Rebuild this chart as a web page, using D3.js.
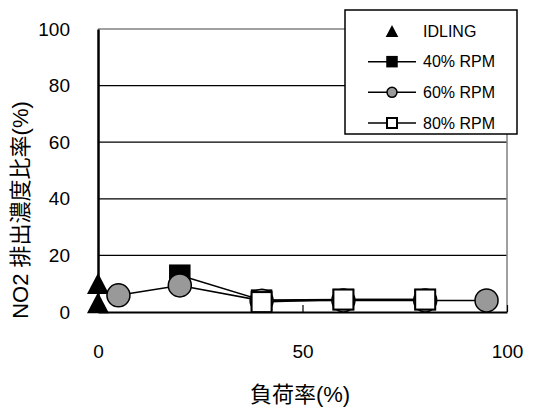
<!DOCTYPE html>
<html>
<head>
<meta charset="utf-8">
<script src="https://cdn.jsdelivr.net/npm/d3@7"></script>
<style>
  html, body { margin: 0; padding: 0; background: #fff; }
  svg { display: block; }
  text { font-family: "Liberation Sans", Arial, "Noto Sans CJK JP", sans-serif; fill: #000; }
  .cjk { font-family: "Liberation Sans", "Noto Sans CJK JP", sans-serif; }
</style>
</head>
<body>
<svg id="chart" width="544" height="408"></svg>
<script>
// Load rate (%) on the x axis, NO2 emission concentration ratio (%) on the y axis
const xTicks = [0, 50, 100];
const yTicks = [0, 20, 40, 60, 80, 100];

const idleLoad = [0, 0];
const idleRatio = [10.1, 3.3];

const rpm40Load = [20, 40, 60, 80];
const rpm40Ratio = [13.0, 4.2, 4.4, 4.4];

const rpm60Load = [5, 20, 40, 60, 80, 95];
const rpm60Ratio = [5.9, 9.4, 4.0, 4.1, 4.1, 4.1];

const rpm80Load = [40, 60, 80];
const rpm80Ratio = [3.5, 4.4, 4.4];

const seriesNames = ["IDLING", "40% RPM", "60% RPM", "80% RPM"];

const svg = d3.select("#chart");
const plotLeft = 98, plotRight = 507, plotTop = 29, plotBottom = 312;

const x = d3.scaleLinear().domain([0, 100]).range([plotLeft, plotRight]);
const y = d3.scaleLinear().domain([0, 100]).range([plotBottom, plotTop]);

// horizontal gridlines
svg.append("g").selectAll("line")
  .data(yTicks.filter(v => v > 0))
  .join("line")
  .attr("x1", plotLeft).attr("x2", plotRight)
  .attr("y1", d => y(d)).attr("y2", d => y(d))
  .attr("stroke", d => d === 100 ? "#808080" : "#000")
  .attr("stroke-width", d => d === 100 ? 1.5 : 1.3);

// right frame edge
svg.append("line")
  .attr("x1", plotRight).attr("x2", plotRight)
  .attr("y1", plotTop).attr("y2", plotBottom)
  .attr("stroke", "#808080").attr("stroke-width", 1.5);

// y axis
const yAxis = d3.axisLeft(y).tickValues(yTicks).tickSize(0).tickPadding(28);
const gy = svg.append("g").attr("transform", `translate(${plotLeft},0)`).call(yAxis);
gy.select(".domain").attr("stroke", "#000").attr("stroke-width", 2.5);
gy.selectAll("text").style("font-size", "19px");

// x axis with inward ticks
const xAxis = d3.axisBottom(x).tickValues(xTicks).tickSize(-7).tickPadding(33).tickSizeOuter(0);
const gx = svg.append("g").attr("transform", `translate(0,${plotBottom})`).call(xAxis);
gx.select(".domain").attr("stroke", "#000").attr("stroke-width", 2);
gx.selectAll(".tick line").attr("stroke", "#000").attr("stroke-width", 1.2);
gx.selectAll("text").style("font-size", "19px");

// axis titles
svg.append("text")
  .attr("class", "cjk")
  .attr("transform", `translate(28,210) rotate(-90)`)
  .attr("text-anchor", "middle")
  .style("font-size", "22px")
  .text("NO2 排出濃度比率(%)");

svg.append("text")
  .attr("class", "cjk")
  .attr("x", 300).attr("y", 402)
  .attr("text-anchor", "middle")
  .style("font-size", "22px")
  .text("負荷率(%)");

// marker shapes
function trianglePath(w, h) {
  return `M0,${-h / 2}L${w / 2},${h / 2}L${-w / 2},${h / 2}Z`;
}
function drawMarker(g, kind, size) {
  if (kind === "triangle") {
    g.append("path").attr("d", trianglePath(size * 1.05, size)).attr("fill", "#000");
  } else if (kind === "square") {
    g.append("rect").attr("x", -size / 2).attr("y", -size / 2)
      .attr("width", size).attr("height", size)
      .attr("fill", "#000").attr("stroke", "#000").attr("stroke-width", 1.5);
  } else if (kind === "circle") {
    g.append("circle").attr("r", size / 2)
      .attr("fill", "#999").attr("stroke", "#000").attr("stroke-width", 1.5);
  } else if (kind === "open") {
    g.append("rect").attr("x", -size / 2).attr("y", -size / 2)
      .attr("width", size).attr("height", size)
      .attr("fill", "#fff").attr("stroke", "#000").attr("stroke-width", 2);
  }
}

const line = d3.line().x(d => x(d[0])).y(d => y(d[1]));

const series = [
  { loads: idleLoad, ratios: idleRatio, kind: "triangle", size: 21, joined: false },
  { loads: rpm40Load, ratios: rpm40Ratio, kind: "square", size: 20, joined: true },
  { loads: rpm60Load, ratios: rpm60Ratio, kind: "circle", size: 23, joined: true },
  { loads: rpm80Load, ratios: rpm80Ratio, kind: "open", size: 20, joined: true }
];

series.forEach(s => {
  const pts = s.loads.map((v, i) => [v, s.ratios[i]]);
  const g = svg.append("g");
  if (s.joined) {
    g.append("path").datum(pts).attr("d", line)
      .attr("fill", "none").attr("stroke", "#000").attr("stroke-width", 1.5);
  }
  pts.forEach(p => {
    const m = g.append("g").attr("transform", `translate(${x(p[0])},${y(p[1])})`);
    drawMarker(m, s.kind, s.size);
  });
});

// legend
const legend = svg.append("g");
legend.append("rect")
  .attr("x", 345).attr("y", 10).attr("width", 172).attr("height", 124)
  .attr("fill", "#fff").attr("stroke", "#000").attr("stroke-width", 1.5);

const legendY = d3.scalePoint().domain(seriesNames).range([31, 123]);
const legendKinds = ["triangle", "square", "circle", "open"];
seriesNames.forEach((name, i) => {
  const cy = legendY(name);
  if (i > 0) {
    legend.append("line").attr("x1", 368).attr("x2", 416)
      .attr("y1", cy).attr("y2", cy).attr("stroke", "#000").attr("stroke-width", 1.5);
  }
  const m = legend.append("g").attr("transform", `translate(392,${cy})`);
  drawMarker(m, legendKinds[i], i === 0 ? 12 : 10);
  legend.append("text").attr("x", 423).attr("y", cy).attr("dy", "0.36em")
    .style("font-size", "16px").text(name);
});
</script>
</body>
</html>
